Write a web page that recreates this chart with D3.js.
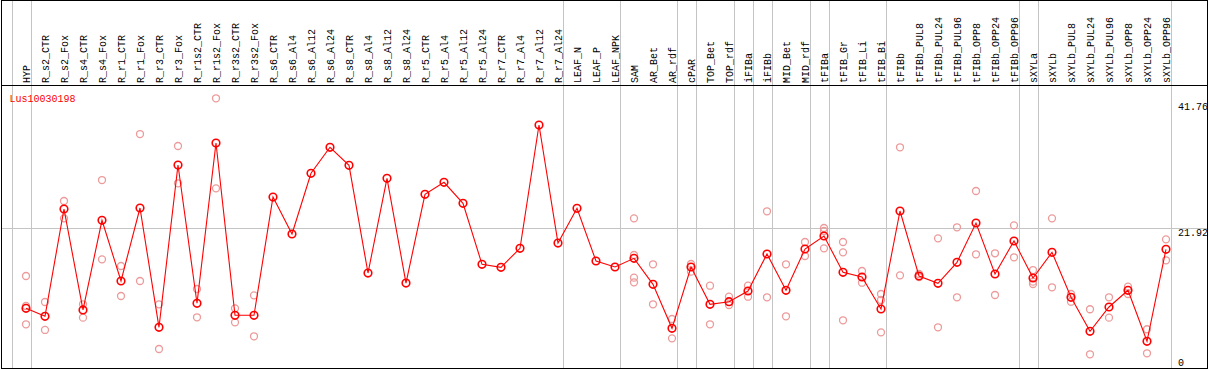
<!DOCTYPE html>
<html>
<head>
<meta charset="utf-8">
<script src="https://cdn.jsdelivr.net/npm/d3@7"></script>
<style>
  body { margin: 0; background: #fff; }
  svg text { font-family: "Liberation Mono", "DejaVu Sans Mono", monospace; font-size: 10px; }
</style>
</head>
<body>
<div id="chart"></div>
<script>
// ---- data ----
const geneName = "Lus10030198";

const samples = ["HYP", "R_s2_CTR", "R_s2_Fox", "R_s4_CTR", "R_s4_Fox", "R_r1_CTR", "R_r1_Fox",
  "R_r3_CTR", "R_r3_Fox", "R_r1s2_CTR", "R_r1s2_Fox", "R_r3s2_CTR", "R_r3s2_Fox",
  "R_s6_CTR", "R_s6_Al4", "R_s6_Al12", "R_s6_Al24", "R_s8_CTR", "R_s8_Al4", "R_s8_Al12", "R_s8_Al24",
  "R_r5_CTR", "R_r5_Al4", "R_r5_Al12", "R_r5_Al24", "R_r7_CTR", "R_r7_Al4", "R_r7_Al12", "R_r7_Al24",
  "LEAF_N", "LEAF_P", "LEAF_NPK", "SAM", "AR_Bet", "AR_rdf", "cPAR", "TOP_Bet", "TOP_rdf",
  "iFIBa", "iFIBb", "MID_Bet", "MID_rdf", "tFIBa", "tFIB_Gr", "tFIB_Li", "tFIB_Bi", "tFIBb",
  "tFIBb_PUL8", "tFIBb_PUL24", "tFIBb_PUL96", "tFIBb_OPP8", "tFIBb_OPP24", "tFIBb_OPP96",
  "sXYLa", "sXYLb", "sXYLb_PUL8", "sXYLb_PUL24", "sXYLb_PUL96", "sXYLb_OPP8", "sXYLb_OPP24", "sXYLb_OPP96"];

// mean expression (red line)
const means = [9.37, 8.12, 24.96, 9.11, 23.19, 13.66, 25.12, 6.39, 31.87, 10.16, 35.32, 8.27, 8.27,
  26.84, 21.04, 30.57, 34.65, 31.82, 14.91, 29.78, 13.34, 27.27, 29.15, 25.86, 16.28, 15.81, 18.79, 38.15, 19.62,
  25.07, 16.80, 15.86, 17.22, 13.14, 6.23, 15.86, 10.00, 10.41, 12.09, 17.90, 12.20, 18.68,
  20.72, 15.02, 14.29, 9.26, 24.65, 14.44, 13.30, 16.59, 22.76, 14.76, 19.94,
  14.13, 18.16, 11.10, 5.76, 9.58, 12.20, 4.19, 18.63];

// single replicates (pale circles)
const replicates = [
  [14.44, 9.73, 6.86], [10.36, 5.97], [26.22, 23.50], [10.00, 7.90], [29.51, 17.06],
  [16.01, 11.30], [36.73, 13.66], [10.00, 2.98], [34.85, 29.00], [12.40, 7.96],
  [42.34, 28.21], [9.37, 7.17], [11.41, 4.98],
  [], [], [], [], [], [], [], [], [], [], [], [], [], [], [], [],
  [], [], [],
  [23.50, 17.74, 14.18, 13.45], [16.28, 10.00], [7.69, 4.66], [16.33, 15.12],
  [12.92, 6.86], [11.19, 9.89], [12.92, 11.19], [24.60, 11.10], [16.28, 8.12], [19.78, 17.58],
  [21.98, 21.51, 18.79], [19.78, 18.16, 7.49], [15.23, 13.39], [11.62, 10.68, 5.60],
  [34.65, 14.55], [14.76, 14.29], [20.36, 6.39], [22.09, 11.10], [27.79, 17.85],
  [18.01, 11.46], [22.40, 17.38],
  [15.38, 13.55, 13.19], [23.50, 12.67], [11.62, 10.41], [9.22, 2.15], [11.10, 7.90],
  [12.76, 11.62], [6.08, 2.31], [20.20, 16.91]];

// last sample index of each tissue group (-1 = left edge)
const groupEnds = [-1, 0, 28, 31, 34, 35, 37, 38, 39, 41, 42, 45, 52, 53, 60];

const yTicks = [0, 21.92, 41.76];

// ---- drawing ----
const width = 1209, height = 370;
const headerH = 85, plotBottom = 368;

const svg = d3.select("#chart").append("svg")
  .attr("width", width)
  .attr("height", height);

const x = d3.scaleLinear().domain([0, samples.length - 1]).range([26, 1166]);
const y = d3.scaleLinear().domain([0, 41.76]).range([plotBottom, 102]);

//linhas de separação dos grupos
svg.append("g").selectAll("line").data(groupEnds)
  .enter()
  .append("line")
  .attr("x1", d => Math.round(x(d + 0.25)) + 0.5)
  .attr("x2", d => Math.round(x(d + 0.25)) + 0.5)
  .attr("y1", 0)
  .attr("y2", plotBottom)
  .attr("stroke", "#c4c4c4")
  .attr("stroke-width", 1);

//grelha horizontal
svg.append("line")
  .attr("x1", 1).attr("x2", width - 2)
  .attr("y1", Math.round(y(21.92)) + 0.5)
  .attr("y2", Math.round(y(21.92)) + 0.5)
  .attr("stroke", "#c4c4c4");

//moldura
svg.append("rect")
  .attr("x", 1.5).attr("y", 0.5)
  .attr("width", width - 3).attr("height", plotBottom)
  .attr("fill", "none")
  .attr("stroke", "black");
svg.append("line")
  .attr("x1", 1).attr("x2", width - 1)
  .attr("y1", headerH + 0.5).attr("y2", headerH + 0.5)
  .attr("stroke", "black");

//nomes das amostras (rodados)
svg.append("g").selectAll("text").data(samples)
  .enter()
  .append("text")
  .attr("transform", (d, i) => `translate(${x(i) + 3.6},${headerH - 2}) rotate(-90)`)
  .attr("fill", "black")
  .text(d => d);

//eixo da direita
svg.append("g").selectAll("text").data(yTicks)
  .enter()
  .append("text")
  .attr("x", 1178)
  .attr("y", d => Math.min(y(d) + 8, plotBottom - 2))
  .attr("fill", "black")
  .text(d => d);

//titulo
svg.append("text")
  .attr("x", 9.5)
  .attr("y", 101.5)
  .attr("fill", "red")
  .text(geneName);

//replicados
const reps = [];
replicates.forEach((arr, i) => arr.forEach(v => reps.push({ i: i, v: v })));
svg.append("g").selectAll("circle").data(reps)
  .enter()
  .append("circle")
  .attr("cx", d => x(d.i))
  .attr("cy", d => y(d.v))
  .attr("r", 3.5)
  .attr("fill", "none")
  .attr("stroke", "#ec9a9a")
  .attr("stroke-width", 1.3);

//linha das medias
const line = d3.line()
  .x((d, i) => x(i))
  .y(d => y(d));
svg.append("path")
  .attr("d", line(means))
  .attr("fill", "none")
  .attr("stroke", "red")
  .attr("stroke-width", 1.1);

svg.append("g").selectAll("circle").data(means)
  .enter()
  .append("circle")
  .attr("cx", (d, i) => x(i))
  .attr("cy", d => y(d))
  .attr("r", 3.8)
  .attr("fill", "none")
  .attr("stroke", "red")
  .attr("stroke-width", 1.6);
</script>
</body>
</html>
